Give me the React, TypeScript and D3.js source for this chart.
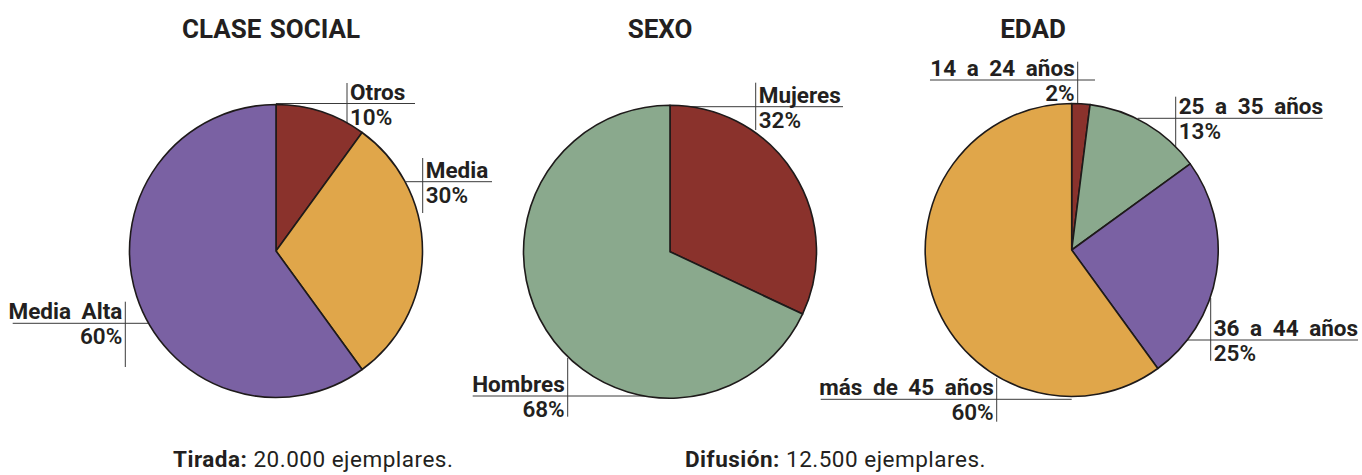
import React from "react";
import * as d3 from "d3";

// ---- data ----
const titles = ["CLASE SOCIAL", "SEXO", "EDAD"];
const classNames = ["Otros", "Media", "Media Alta"];
const classValues = [10, 30, 60];
const sexNames = ["Mujeres", "Hombres"];
const sexValues = [32, 68];
const ageNames = ["14 a 24 años", "25 a 35 años", "36 a 44 años", "más de 45 años"];
const ageValues = [2, 13, 25, 60];
const footerBold = ["Tirada:", "Difusión:"];
const footerText = [" 20.000 ejemplares.", " 12.500 ejemplares."];

// ---- styles / layout ----
const classColors = ["#8a322c", "#e0a64a", "#7a61a3"];
const sexColors = ["#8a322c", "#8aa98d"];
const ageColors = ["#8a322c", "#8aa98d", "#7a61a3", "#e0a64a"];

const FONT = "Roboto, 'Liberation Sans', sans-serif";
const INK = "#231f20";
const R = 146.5;

type LabelPos = { vx: number; hy: number; hx1: number; hx2: number; vy1: number; vy2: number; side: "l" | "r" };

const classLabels: LabelPos[] = [
  { vx: 71, hy: -147.5, hx1: 0, hx2: 139, vy1: -168, vy2: -128, side: "r" },
  { vx: 146.7, hy: -69.3, hx1: 130, hx2: 216, vy1: -93, vy2: -38, side: "r" },
  { vx: -150.7, hy: 72.3, hx1: -263.3, hx2: -120, vy1: 50.7, vy2: 116, side: "l" },
];
const sexLabels: LabelPos[] = [
  { vx: 85.7, hy: -145, hx1: 0, hx2: 173, vy1: -169, vy2: -121.7, side: "r" },
  { vx: -102.3, hy: 144.3, hx1: -197.3, hx2: 0, vy1: 106.3, vy2: 165, side: "l" },
];
const ageLabels: LabelPos[] = [
  { vx: 6, hy: -170, hx1: -141.7, hx2: 23.3, vy1: -188.3, vy2: -146.7, side: "l" },
  { vx: 104, hy: -131.7, hx1: 66, hx2: 251, vy1: -153.3, vy2: -100, side: "r" },
  { vx: 139, hy: 90, hx1: 114, hx2: 286.3, vy1: 48, vy2: 110.7, side: "r" },
  { vx: -75, hy: 149.3, hx1: -251, hx2: 0, vy1: 128, vy2: 171.7, side: "l" },
];

const pies = [
  { cx: 276, cy: 251, names: classNames, values: classValues, colors: classColors, labels: classLabels, titleX: 271 },
  { cx: 670, cy: 251.7, names: sexNames, values: sexValues, colors: sexColors, labels: sexLabels, titleX: 660 },
  { cx: 1071.7, cy: 250, names: ageNames, values: ageValues, colors: ageColors, labels: ageLabels, titleX: 1033 },
];

const footerX = [173, 685];

function Pie({ p, title }: { p: (typeof pies)[number]; title: string }) {
  const arcs = d3.pie<number>().sort(null).value((d) => d)(p.values);
  const arc = d3.arc<d3.PieArcDatum<number>>().innerRadius(0).outerRadius(R);
  return (
    <g>
      <text
        x={p.titleX}
        y={38}
        textAnchor="middle"
        fontFamily={FONT}
        fontWeight={700}
        fontSize={26}
        fill={INK}
        style={{ wordSpacing: "2px" }}
      >
        {title}
      </text>
      <g transform={`translate(${p.cx},${p.cy})`}>
        {p.labels.map((l, i) => (
          <g key={"l" + i} stroke="#3a3a3a" strokeWidth={1}>
            <line x1={l.hx1} x2={l.hx2} y1={l.hy} y2={l.hy} />
            <line x1={l.vx} x2={l.vx} y1={l.vy1} y2={l.vy2} />
          </g>
        ))}
        {arcs.map((a, i) => (
          <path key={i} d={arc(a) || ""} fill={p.colors[i]} stroke="#1e1a1a" strokeWidth={1.6} strokeLinejoin="round" />
        ))}
        {p.labels.map((l, i) => {
          const x = l.side === "r" ? l.vx + 3 : l.vx - 3;
          const anchor = l.side === "r" ? "start" : "end";
          return (
            <g key={"t" + i} fontFamily={FONT} fontSize={22.5} fill={INK} textAnchor={anchor}>
              <text x={x} y={l.hy - 4} fontWeight={700} style={{ wordSpacing: "5px" }}>
                {p.names[i]}
              </text>
              <text x={x} y={l.hy + 21} fontWeight={600}>
                {`${p.values[i]}%`}
              </text>
            </g>
          );
        })}
      </g>
    </g>
  );
}

export default function App() {
  return (
    <svg
      width={1362}
      height={475}
      style={{ position: "absolute", left: 0, top: 0, background: "#fff" }}
    >
      <rect width={1362} height={475} fill="#fff" />
      {pies.map((p, i) => (
        <Pie key={i} p={p} title={titles[i]} />
      ))}
      {footerBold.map((b, i) => (
        <text key={i} x={footerX[i]} y={467} fontFamily={FONT} fontSize={22.5} fill={INK} style={{ letterSpacing: "0.5px" }}>
          <tspan fontWeight={700}>{b}</tspan>
          <tspan fontWeight={400}>{footerText[i]}</tspan>
        </text>
      ))}
    </svg>
  );
}
